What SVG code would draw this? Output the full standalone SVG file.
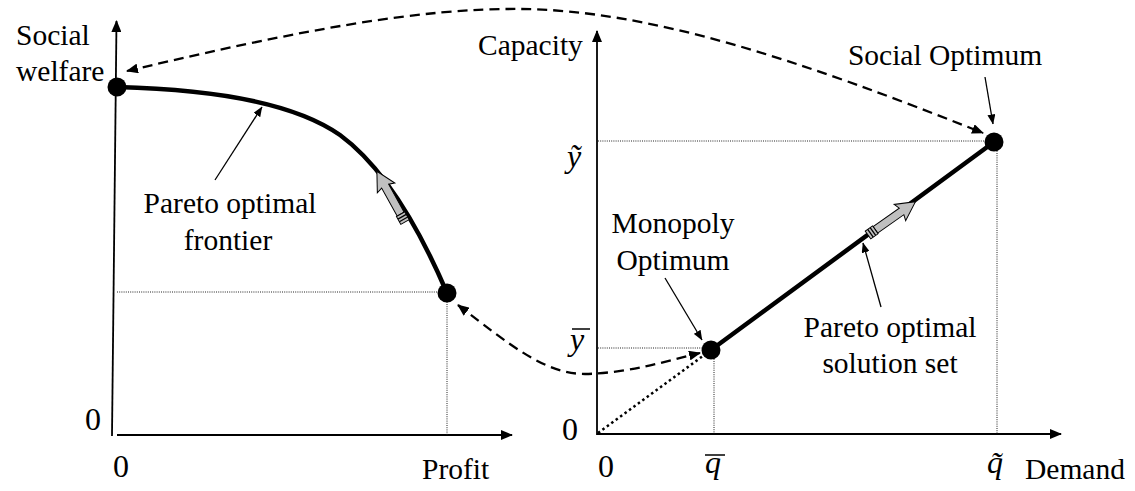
<svg xmlns="http://www.w3.org/2000/svg" width="1135" height="491" viewBox="0 0 1135 491">
<defs>
<style>
text{font-family:'Liberation Serif','DejaVu Serif','Times New Roman',serif}
.t{font-size:29.5px;fill:#000}
.m{font-size:32px;fill:#000}
.mi{font-size:32px;font-style:italic;fill:#000}
.axis{stroke:#000;stroke-width:1.8;fill:none}
.guide{stroke:#222;stroke-width:1;stroke-dasharray:1 1.2;fill:none}
.dash{stroke:#000;stroke-width:2.3;stroke-dasharray:10 6;fill:none}
.thick{stroke:#000;stroke-width:4.5;fill:none;stroke-linecap:round}
.ptr{stroke:#000;stroke-width:1.3;fill:none}
.dot{fill:#000}
</style>
<marker id="ah" viewBox="0 0 12 10" refX="11" refY="5" markerWidth="12" markerHeight="10" markerUnits="userSpaceOnUse" orient="auto"><path d="M0,0 L12,5 L0,10 Z" fill="#000"/></marker>
<marker id="dh" viewBox="0 0 12 10" refX="11" refY="5" markerWidth="12" markerHeight="10" markerUnits="userSpaceOnUse" orient="auto-start-reverse"><path d="M0,0 L12,5 L0,10 Z" fill="#000"/></marker>
<marker id="ph" viewBox="0 0 10 8" refX="9.5" refY="4" markerWidth="10" markerHeight="8" markerUnits="userSpaceOnUse" orient="auto"><path d="M0,0 L10,4 L0,8 Z" fill="#000"/></marker>
<g id="garrow">
<path d="M9,-4 L41,-4 L39,-10 L58,0 L39,10 L41,4 L9,4 Z" fill="#c0c0c0" stroke="#000" stroke-width="1"/>
<rect x="0" y="-4.8" width="9" height="9.6" fill="#c0c0c0" stroke="#000" stroke-width="1"/>
<line x1="3" y1="-4.8" x2="3" y2="4.8" stroke="#000" stroke-width="1.3"/>
<line x1="6" y1="-4.8" x2="6" y2="4.8" stroke="#000" stroke-width="1.3"/>
</g>
</defs>
<rect width="1135" height="491" fill="#fff"/>

<g id="left-axes">
<line class="axis" x1="112" y1="436" x2="116.5" y2="21" marker-end="url(#ah)"/>
<line class="axis" x1="117" y1="435" x2="512" y2="435" marker-end="url(#ah)"/>
<text class="m" x="85" y="430">0</text>
<text class="m" x="113" y="477">0</text>
<text class="t" x="16" y="45">Social</text>
<text class="t" x="16" y="81">welfare</text>
<text class="t" x="422" y="479">Profit</text>
</g>

<g id="right-axes">
<line class="axis" x1="597" y1="435" x2="597" y2="31" marker-end="url(#ah)"/>
<line class="axis" x1="597" y1="434" x2="1061" y2="434" marker-end="url(#ah)"/>
<text class="m" x="562" y="440">0</text>
<text class="m" x="598" y="477">0</text>
<text class="t" x="478" y="55">Capacity</text>
<text class="t" x="1025" y="479">Demand</text>
<text class="mi" x="567" y="167">ỹ</text>
<text class="mi" x="570" y="350">y</text>
<line x1="572" y1="329" x2="590" y2="329" stroke="#000" stroke-width="1.5"/>
<text class="mi" x="705" y="473">q</text>
<line x1="705" y1="455" x2="725" y2="455" stroke="#000" stroke-width="1.5"/>
<text class="mi" x="987" y="473">q̃</text>
</g>

<g id="guides">
<line class="guide" x1="117" y1="292" x2="447" y2="292"/>
<line class="guide" x1="447" y1="293" x2="447" y2="435"/>
<line class="guide" x1="598" y1="141" x2="994" y2="141"/>
<line class="guide" x1="997" y1="142" x2="997" y2="434"/>
<line class="guide" x1="598" y1="348" x2="711" y2="348"/>
<line class="guide" x1="714" y1="350" x2="714" y2="434"/>
<line x1="598" y1="433" x2="711" y2="350" stroke="#000" stroke-width="2.5" stroke-dasharray="2.5 3"/>
</g>

<g id="frontier">
<path class="thick" d="M117,87 C200,89 290,100 340,135 C385,168 420,230 447,293"/>
<use href="#garrow" transform="translate(405,222) rotate(-119)"/>
<circle class="dot" cx="117" cy="87" r="9.5"/>
<circle class="dot" cx="447" cy="293" r="9.5"/>
</g>

<g id="solution-set">
<line class="thick" x1="711" y1="350" x2="994" y2="142"/>
<use href="#garrow" transform="translate(868,235) rotate(-35.1)"/>
<circle class="dot" cx="711" cy="350" r="9.5"/>
<circle class="dot" cx="994" cy="142" r="9.5"/>
</g>

<g id="label-frontier">
<text class="t" x="230" y="213" text-anchor="middle">Pareto optimal</text>
<text class="t" x="228" y="250" text-anchor="middle">frontier</text>
</g>
<g id="label-monopoly">
<text class="t" x="673" y="233" text-anchor="middle">Monopoly</text>
<text class="t" x="673" y="270" text-anchor="middle">Optimum</text>
</g>
<g id="label-social">
<text class="t" x="945" y="65" text-anchor="middle">Social Optimum</text>
</g>
<g id="label-solution">
<text class="t" x="890" y="337" text-anchor="middle">Pareto optimal</text>
<text class="t" x="890" y="373" text-anchor="middle">solution set</text>
</g>

<g id="connectors">
<path class="dash" d="M127,71 C300,30 420,8 520,9 C650,10 800,60 983,133" marker-start="url(#dh)" marker-end="url(#dh)"/>
<path class="dash" d="M458,305 C510,345 545,374 585,374 C630,373 670,360 700,353" marker-start="url(#dh)" marker-end="url(#dh)"/>
<line class="ptr" x1="215" y1="180" x2="262" y2="107" marker-end="url(#ph)"/>
<line class="ptr" x1="665" y1="278" x2="702" y2="340" marker-end="url(#ph)"/>
<line class="ptr" x1="985" y1="77" x2="993" y2="124" marker-end="url(#ph)"/>
<line class="ptr" x1="881" y1="307" x2="863" y2="243" marker-end="url(#ph)"/>
</g>
</svg>
